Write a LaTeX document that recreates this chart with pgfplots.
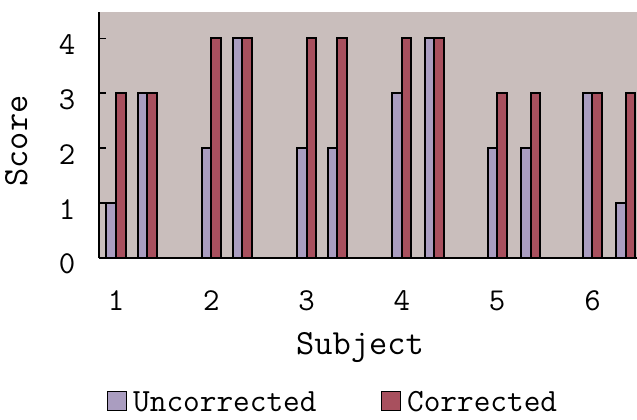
\documentclass[border=0pt]{standalone}
\usepackage{pgfplots}
\pgfplotsset{compat=1.18}
\definecolor{bgc}{RGB}{201,190,188}
\definecolor{unc}{RGB}{170,157,192}
\definecolor{cor}{RGB}{168,80,94}
\begin{document}
\begin{tikzpicture}
\clip (-99bp,-162bp) rectangle (538bp,258bp);
\begin{axis}[
  scale only axis, width=538bp, height=246bp,
  at={(0,0)}, anchor=south west,
  xmin=0.8216, xmax=6.467, ymin=0, ymax=4.48,
  axis background/.style={fill=bgc},
  axis lines=left,
  axis line style={-, line width=1.8bp, black},
  tick align=inside,
  major tick length=7bp,
  ytick={0,1,2,3,4},
  xtick={1,2,3,4,5,6},
  xtick style={draw=none},
  ytick style={line width=1.6bp, black},
  /pgf/number format/assume math mode=true,
  tick label style={font=\fontsize{32}{33}\selectfont\ttfamily},
  yticklabel style={anchor=center, xshift=-32bp, yshift=-6bp},
  xticklabel style={anchor=center, yshift=-36bp},
  label style={font=\fontsize{35.5}{37}\selectfont\ttfamily},
  xlabel={Subject},
  ylabel={Score},
  xlabel style={at={(axis description cs:0.4851,-0.394)}, anchor=base},
  ylabel style={at={(axis description cs:-0.1338,0.4756)}, anchor=base},
  ybar, bar width=0.1, bar shift=0pt,
  legend columns=2,
  legend style={draw=none, fill=none, font=\fontsize{32.5}{34}\selectfont\ttfamily,
    at={(axis description cs:0.0083,-0.581)}, anchor=west,
    nodes={inner xsep=2bp, inner ysep=0bp, text depth=0bp},
    /tikz/every even column/.append style={column sep=62bp},
    /tikz/every odd column/.append style={column sep=4bp}},
  legend cell align=left,
]
\addplot[draw=black, line width=2bp, fill=unc,
  legend image code/.code={\draw[draw=black, line width=1.5bp, fill=unc] (0bp,-9bp) rectangle (19bp,10bp);}]
  coordinates {(0.95,1) (1.28,3) (1.95,2) (2.275,4) (2.95,2) (3.27,2) (3.95,3) (4.29,4) (4.95,2) (5.30,2) (5.95,3) (6.30,1)};
\addplot[draw=black, line width=2bp, fill=cor,
  legend image code/.code={\draw[draw=black, line width=1.5bp, fill=cor] (0bp,-9bp) rectangle (19bp,10bp);}]
  coordinates {(1.05,3) (1.38,3) (2.05,4) (2.375,4) (3.05,4) (3.37,4) (4.05,4) (4.39,4) (5.05,3) (5.40,3) (6.05,3) (6.40,3)};
\legend{Uncorrected,Corrected}
\end{axis}
\end{tikzpicture}
\end{document}
